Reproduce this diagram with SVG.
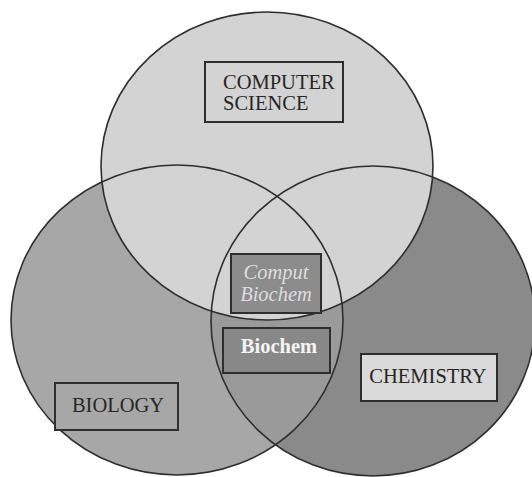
<svg xmlns="http://www.w3.org/2000/svg" width="532" height="477" viewBox="0 0 532 477">
<style>
.outline{fill:none;stroke:#2e2e2e;stroke-width:1.6}
.box{stroke:#2e2e2e;stroke-width:2}
.lbl{font-family:"Liberation Serif","Times New Roman",serif;font-size:20.5px;fill:#262626}
</style>
<defs>
<clipPath id="bioClip"><ellipse cx="177" cy="320" rx="166" ry="155"/></clipPath>
</defs>
<rect width="532" height="477" fill="#ffffff"/>
<g id="chemistry-set">
<ellipse cx="373" cy="321" rx="162" ry="155" fill="#8a8a8a"/>
</g>
<g id="biology-set">
<ellipse cx="177" cy="320" rx="166" ry="155" fill="#a7a7a7"/>
</g>
<g id="bio-chem-overlap">
<ellipse cx="373" cy="321" rx="162" ry="155" fill="#9a9a9a" clip-path="url(#bioClip)"/>
</g>
<g id="computer-science-set">
<ellipse cx="267" cy="166" rx="166" ry="154" fill="#d3d3d3"/>
</g>
<g id="outlines">
<ellipse class="outline" cx="373" cy="321" rx="162" ry="155"/>
<ellipse class="outline" cx="177" cy="320" rx="166" ry="155"/>
<ellipse class="outline" cx="267" cy="166" rx="166" ry="154"/>
</g>
<g id="node-computer-science">
<rect class="box" x="205" y="62" width="138" height="60" fill="#d3d3d3"/>
<text class="lbl" x="223" y="89">COMPUTER</text>
<text class="lbl" x="223" y="110">SCIENCE</text>
</g>
<g id="node-comput-biochem">
<rect class="box" x="231" y="254" width="90" height="59" fill="#8c8c8c"/>
<text class="lbl" x="276" y="279" text-anchor="middle" font-style="italic" style="fill:#dedede">Comput</text>
<text class="lbl" x="276" y="301" text-anchor="middle" font-style="italic" style="fill:#dedede">Biochem</text>
</g>
<g id="node-biochem">
<rect class="box" x="223" y="328" width="107" height="45" fill="#888888"/>
<text class="lbl" x="279" y="353" text-anchor="middle" font-weight="bold" style="fill:#f4f4f4">Biochem</text>
</g>
<g id="node-chemistry">
<rect class="box" x="361" y="354" width="136" height="47" fill="#dadada"/>
<text class="lbl" x="428" y="383" text-anchor="middle">CHEMISTRY</text>
</g>
<g id="node-biology">
<rect class="box" x="55" y="383" width="123" height="47" fill="#a7a7a7"/>
<text class="lbl" x="118" y="412" text-anchor="middle">BIOLOGY</text>
</g>
</svg>
